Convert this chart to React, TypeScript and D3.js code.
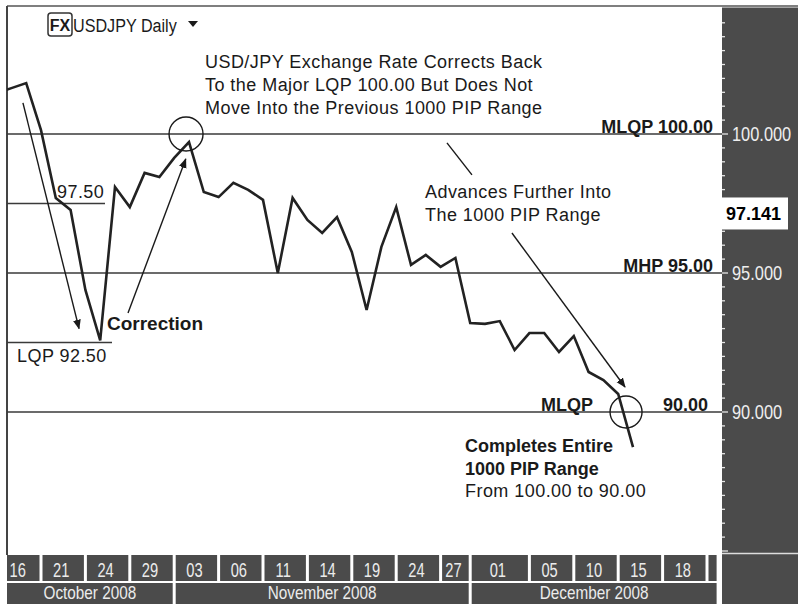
import React from "react";
import * as d3 from "d3";

// ---- data ----
const prices = [
  101.47, 101.65, 101.83, 100.14, 97.7, 97.27, 94.39, 92.58, 98.09, 97.37,
  98.6, 98.45, 99.14, 99.71, 97.91, 97.73, 98.24, 97.99, 97.63, 95.0,
  97.7, 96.91, 96.44, 97.01, 95.76, 93.67, 95.94, 97.37, 95.29, 95.65,
  95.22, 95.54, 93.2, 93.17, 93.27, 92.23, 92.84, 92.84, 92.16, 92.73,
  91.44, 91.15, 90.65, 88.74,
];
const dateLabels = ["16", "21", "24", "29", "03", "06", "11", "14", "19", "24", "27", "01", "05", "10", "15", "18", ""];
const dateLabelIdx = [0, 3, 6, 9, 12, 15, 18, 21, 24, 27, 30, 32, 36, 39, 42, 45, 48];
const months = ["October 2008", "November 2008", "December 2008"];
const monthStartIdx = [0, 12, 32];
const majorLevels = [100, 95, 90];
const axisLabels = [100, 95, 90];
const currentPrice = 97.141;

const W = 798;
const H = 604;
const left = 7;
const top = 6;
const right = 722;
const bottom = 555;
const slots = 49;

const sans = "'Liberation Sans', Arial, Helvetica, sans-serif";

type NProps = {
  x: number;
  y: number;
  sx: number;
  children: React.ReactNode;
  [k: string]: any;
};
const NText = ({ x, y, sx, children, ...rest }: NProps) => (
  <text transform={`translate(${x},${y}) scale(${sx},1)`} {...rest}>
    {children}
  </text>
);

export default function App() {
  const x = d3.scaleLinear().domain([0, slots]).range([-3.4, -3.4 + 14.8 * slots]);
  const y = d3.scaleLinear().domain([100, 90]).range([134, 412]);

  const line = d3
    .line<number>()
    .x((_, i) => x(i))
    .y((d) => y(d));

  const minorTicks = d3.range(85, 104.6, 0.5);
  const dark = "#4b4b4b";
  const ink = "#1a1a1a";

  const monthEnd = [12, 32, 48.75];

  const arrow = (i1: number, v1: number, i2: number, v2: number, head: boolean, key: string) => (
    <line
      key={key}
      x1={x(i1)}
      y1={y(v1)}
      x2={x(i2)}
      y2={y(v2)}
      stroke={ink}
      strokeWidth={1.4}
      markerEnd={head ? "url(#ah)" : undefined}
    />
  );

  return (
    <svg
      width={W}
      height={H}
      style={{ position: "absolute", left: 0, top: 0, background: "#fff" }}
      fontFamily={sans}
    >
      <defs>
        <clipPath id="plot">
          <rect x={left} y={top} width={right - left} height={bottom - top} />
        </clipPath>
        <clipPath id="dates">
          <rect x={left} y={bottom} width={right - 4 - left} height={H - bottom} />
        </clipPath>
        <marker id="ah" viewBox="0 0 10 10" refX="9" refY="5" markerWidth="7" markerHeight="7" orient="auto">
          <path d="M0,1 L10,5 L0,9 z" fill={ink} />
        </marker>
      </defs>

      {/* frame */}
      <line x1={left} y1={top} x2={W} y2={top} stroke="#555" strokeWidth={1.5} />
      <line x1={left} y1={top} x2={left} y2={bottom} stroke="#444" strokeWidth={2} />

      {/* right price panel */}
      <rect x={right} y={top + 1.5} width={W - right} height={H - top} fill={dark} />
      <line x1={right} y1={553.5} x2={W} y2={553.5} stroke="#ddd" strokeWidth={1.5} />
      {minorTicks.map((t) => {
        const yy = y(t);
        if (yy < top + 4 || yy > 551) return null;
        const major = Math.abs(t % 5) < 1e-6;
        return (
          <line key={t} x1={right} x2={right + (major ? 6 : 3)} y1={yy} y2={yy} stroke="#e6e6e6" strokeWidth={1.3} />
        );
      })}
      {axisLabels.map((t) => (
        <NText key={t} x={right + 10} y={y(t) + 7} sx={0.82} fill="#eeeeee" fontSize={20}>
          {d3.format(".3f")(t)}
        </NText>
      ))}
      <rect x={right} y={y(currentPrice) - 16} width={66} height={32} fill="#fff" />
      <text x={right + 4} y={y(currentPrice) + 7} fontSize={18} fontWeight="bold" fill="#000">
        {d3.format(".3f")(currentPrice)}
      </text>

      {/* level lines */}
      {majorLevels.map((lv) => (
        <line key={lv} x1={left} x2={right} y1={y(lv)} y2={y(lv)} stroke="#3a3a3a" strokeWidth={1.6} />
      ))}
      <line x1={left} x2={105} y1={y(97.5)} y2={y(97.5)} stroke="#3a3a3a" strokeWidth={1.6} />
      <line x1={left} x2={112} y1={y(92.5)} y2={y(92.5)} stroke="#3a3a3a" strokeWidth={1.6} />

      {/* price line */}
      <g clipPath="url(#plot)">
        <path d={line(prices) || ""} fill="none" stroke="#222" strokeWidth={2.6} strokeLinejoin="miter" />
      </g>

      {/* annotations */}
      <rect x={48} y={13} width={24} height={23} rx={3} fill="none" stroke="#333" strokeWidth={1.5} />
      <text x={60} y={31} textAnchor="middle" fontSize={16} fontWeight="bold" fill={ink}>FX</text>
      <NText x={73} y={32} sx={0.85} fontSize={19} fill={ink}>USDJPY Daily</NText>
      <path d="M188,21 L198,21 L193,27 z" fill={ink} />

      <g fontSize={18} fill={ink} letterSpacing={0.45}>
        <text x={205} y={68}>USD/JPY Exchange Rate Corrects Back</text>
        <text x={205} y={91}>To the Major LQP 100.00 But Does Not</text>
        <text x={205} y={114}>Move Into the Previous 1000 PIP Range</text>
        <text x={425} y={198}>Advances Further Into</text>
        <text x={425} y={221}>The 1000 PIP Range</text>
        <text x={57} y={198}>97.50</text>
        <text x={17} y={362}>LQP 92.50</text>
        <text x={465} y={497}>From 100.00 to 90.00</text>
      </g>
      <g fontSize={18} fontWeight="bold" fill={ink}>
        <text x={713} y={y(100) - 1} textAnchor="end">MLQP 100.00</text>
        <text x={713} y={y(95) - 1} textAnchor="end">MHP 95.00</text>
        <text x={593} y={y(90) - 1} textAnchor="end">MLQP</text>
        <text x={708} y={y(90) - 1} textAnchor="end">90.00</text>
        <text x={465} y={452}>Completes Entire</text>
        <text x={465} y={475}>1000 PIP Range</text>
        <text x={107} y={330} fontSize={19}>Correction</text>
      </g>

      {arrow(1.78, 101.12, 5.57, 93.0, true, "a1")}
      {arrow(8.88, 93.56, 12.78, 99.1, true, "a2")}
      {arrow(30.43, 99.68, 32.12, 98.53, false, "a3")}
      {arrow(34.82, 96.44, 42.46, 90.9, true, "a4")}
      <circle cx={x(12.8)} cy={y(100)} r={17} fill="none" stroke={ink} strokeWidth={1.4} />
      <circle cx={x(42.53)} cy={y(90)} r={16} fill="none" stroke={ink} strokeWidth={1.4} />

      {/* date axis */}
      <g clipPath="url(#dates)">
        {dateLabelIdx.map((s, k) => {
          const e = k + 1 < dateLabelIdx.length ? dateLabelIdx[k + 1] : 48.75;
          const x0 = x(s) + 1.5;
          const x1 = x(e) - 1.5;
          const cx = (Math.max(x0, 0) + x1) / 2 - 2;
          return (
            <g key={k}>
              <rect x={x0} y={bottom} width={Math.max(0, x1 - x0)} height={26} fill={dark} />
              <NText x={cx} y={577} sx={0.7} textAnchor="middle" fill="#ececec" fontSize={21}>
                {dateLabels[k]}
              </NText>
            </g>
          );
        })}
        {months.map((m, k) => {
          const x0 = x(monthStartIdx[k]) + 1.5;
          const x1 = x(monthEnd[k]) - 1.5;
          return (
            <g key={m}>
              <rect x={x0} y={583} width={x1 - x0} height={H - 583} fill={dark} />
              <NText x={(Math.max(x0, left) + x1) / 2} y={599} sx={0.85} textAnchor="middle" fill="#ececec" fontSize={18}>
                {m}
              </NText>
            </g>
          );
        })}
      </g>
    </svg>
  );
}
